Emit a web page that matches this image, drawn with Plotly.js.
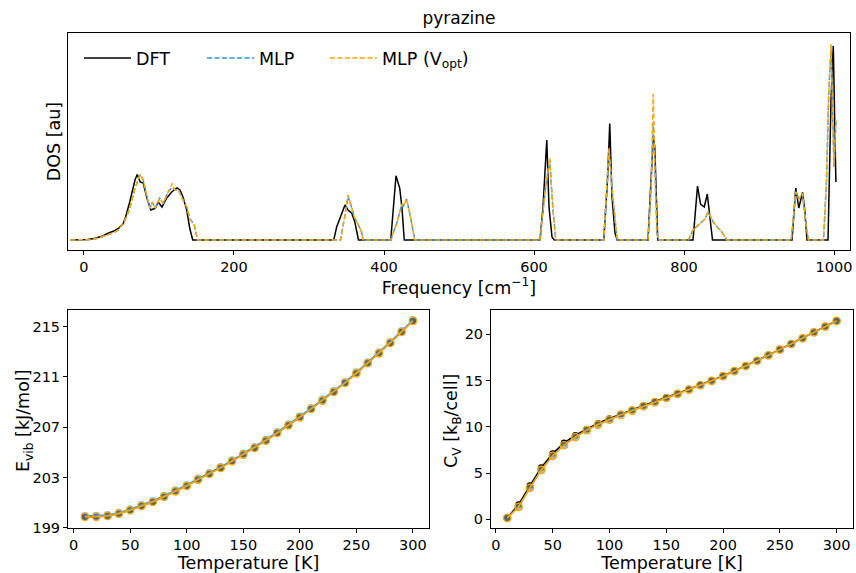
<!DOCTYPE html>
<html>
<head>
<meta charset="utf-8">
<script src="https://cdn.plot.ly/plotly-3.0.1.min.js"></script>
<style>html,body{margin:0;padding:0;background:#fff;}#plot{width:856px;height:573px;}</style>
</head>
<body>
<div id="plot"></div>
<script>
// ---- DOS data (frequency in cm^-1, DOS in arbitrary units) ----
const dftFreq = [-18,0,5,15,25,32,40,46,52,55,61,68,71,75,79,84,89,95,99,104,110,117,124,128,132,137,141,145,333,337,341,346,348,352,357,361,366,409,412,416,421,424,427,608,612,617,620,624,627,693,698,701,704,708,711,752,756,759,761,763,765,812,815,818,822,827,831,834,838,944,949,953,958,961,964,992,996,999,1002.5];
const dftDos = [0,0,0.5,1.7,4,6.7,9,11.7,16,21.7,38,60,65.5,58,57,41.7,30,31.7,38,33,41.7,48,52,50,43,30,11.7,0,0,13.3,21.7,31.7,35,30,26.7,18.3,0,0,31.7,64.3,51.7,31.7,0,0,33.3,100,33,3,0,0,60,116.5,43,7,0,0,60,104,93,43,0,0,23.3,54,36,33,46,23.3,0,0,52,32,47.7,30,0,0,140,194,58];

const mlpFreq = [-18,0,10,20,30,40,46,55,61,68,75,79,84,88,91,95,101,106,112,118,121,126,131,137,141,147,151.5,342,348,352,357,361,366,370,372,409,417,424,426,430,434,438,441,608,615,621,625,629,693,700,705,711,752,756,759,761,764,766,806,812,821,828,832,839,846,851,857,943,949,953,958,963,966,986,990,993,996,998,1000,1002.5];
const mlpDos = [0,0,0.5,2,4.5,7.5,10,20,31.7,51.7,65,60,43,31.7,38,31.7,41.7,36.7,48,53,50,50,41.7,33,21.7,15,0,0,25,44,32,21.7,15,8.3,0,0,16.7,36,34,41,28,11.7,0,0,50,80,33,0,0,90,43,0,0,50,114,76.7,7,0,0,10,16,21,28.3,18,11.7,7.5,0,0,48.3,41,46.5,13,0,0,60,148,190,138,73,118];

const optFreq = [-18,0,10,20,30,40,46,55,61,68,75,79,84,88,91,95,101,106,112,118,121,126,131,137,141,147,151.5,342,348,352,357,361,366,370,372,409,417,424,426,430,434,438,441,608,615,621,625,629,693,700,705,711,752,756,759,761,764,766,806,812,821,828,832,839,846,851,857,943,949,953,958,963,966,986,990,993,996,998,1000,1002.5];
const optDos = [0,0,0.5,2,4.5,7.5,10,20,31.7,51.7,66,60,43,31.7,38,31.7,41.7,36.7,48,56.7,50,50,41.7,33,21.7,15,0,0,25,45,32,21.7,15,8.3,0,0,16.7,36,34,41,28,11.7,0,0,50,81.7,33,0,0,91.7,43,0,0,50,146,76.7,7,0,0,10,16,21,28.3,18,11.7,7.5,0,0,48.3,41,46.5,13,0,0,60,150,196,138,73,120];

// ---- Thermodynamics ----
const temperature = [10,20,30,40,50,60,70,80,90,100,110,120,130,140,150,160,170,180,190,200,210,220,230,240,250,260,270,280,290,300];
const evibDft = [199.88,199.89,199.96,200.14,200.41,200.75,201.07,201.49,201.92,202.34,202.85,203.30,203.78,204.31,204.84,205.37,205.95,206.56,207.17,207.81,208.47,209.14,209.83,210.54,211.31,212.11,212.90,213.73,214.60,215.48];
const evibMlp = [199.94,199.95,200.02,200.20,200.47,200.81,201.13,201.55,201.98,202.40,202.91,203.36,203.84,204.37,204.90,205.43,206.01,206.62,207.23,207.87,208.53,209.20,209.89,210.60,211.37,212.17,212.96,213.79,214.66,215.53];
const evibOpt = [199.86,199.87,199.94,200.12,200.39,200.73,201.05,201.47,201.90,202.32,202.83,203.28,203.76,204.29,204.82,205.35,205.93,206.54,207.15,207.79,208.45,209.12,209.81,210.52,211.29,212.09,212.88,213.71,214.58,215.46];
const cvDft = [0.18,1.59,3.65,5.60,7.11,8.27,9.10,9.75,10.40,10.90,11.40,11.84,12.31,12.74,13.18,13.61,14.08,14.55,15.02,15.52,16.06,16.61,17.18,17.76,18.38,18.99,19.60,20.25,20.87,21.48];
const cvMlp = [0.15,1.36,3.41,5.36,6.88,8.03,8.89,9.65,10.26,10.80,11.31,11.77,12.25,12.69,13.13,13.57,14.04,14.51,14.99,15.49,16.03,16.59,17.16,17.74,18.36,18.97,19.59,20.23,20.86,21.47];
const cvOpt = [0.15,1.34,3.39,5.34,6.86,8.01,8.88,9.64,10.25,10.79,11.30,11.76,12.24,12.68,13.12,13.56,14.03,14.50,14.98,15.48,16.02,16.58,17.15,17.73,18.35,18.96,19.58,20.22,20.85,21.46];
const evibTicks = [199,203,207,211,215];

const BLACK = '#000000', BLUE = '#2e95f0', ORANGE = '#ffa500';
const F = 'DejaVu Sans, sans-serif';

const traces = [
  {x: dftFreq, y: dftDos, type:'scatter', mode:'lines', name:'DFT', legend:'legend', line:{color:BLACK, width:1.5}, xaxis:'x', yaxis:'y'},
  {x: mlpFreq, y: mlpDos, type:'scatter', mode:'lines', name:'MLP', legend:'legend2', line:{color:BLUE, width:1.5, dash:'5px,2.5px'}, xaxis:'x', yaxis:'y'},
  {x: optFreq, y: optDos, type:'scatter', mode:'lines', name:'MLP (V<sub>opt</sub>)', legend:'legend3', line:{color:ORANGE, width:1.5, dash:'5px,2.5px'}, xaxis:'x', yaxis:'y'},

  {x: temperature, y: evibDft, type:'scatter', mode:'lines+markers', showlegend:false, line:{color:BLACK, width:1.5}, marker:{color:BLACK, size:6.5}, xaxis:'x2', yaxis:'y2'},
  {x: temperature, y: evibMlp, type:'scatter', mode:'lines+markers', showlegend:false, line:{color:BLUE, width:1.5}, marker:{color:'rgba(46,149,240,0.55)', size:8}, xaxis:'x2', yaxis:'y2'},
  {x: temperature, y: evibOpt, type:'scatter', mode:'lines+markers', showlegend:false, line:{color:ORANGE, width:1.5}, marker:{color:'rgba(255,165,0,0.25)', size:7.5, line:{color:ORANGE, width:1.2}}, xaxis:'x2', yaxis:'y2'},

  {x: temperature, y: cvDft, type:'scatter', mode:'lines+markers', showlegend:false, line:{color:BLACK, width:1.5}, marker:{color:BLACK, size:6.5}, xaxis:'x3', yaxis:'y3'},
  {x: temperature, y: cvMlp, type:'scatter', mode:'lines+markers', showlegend:false, line:{color:BLUE, width:1.5}, marker:{color:'rgba(46,149,240,0.55)', size:8}, xaxis:'x3', yaxis:'y3'},
  {x: temperature, y: cvOpt, type:'scatter', mode:'lines+markers', showlegend:false, line:{color:ORANGE, width:1.5}, marker:{color:'rgba(255,165,0,0.25)', size:7.5, line:{color:ORANGE, width:1.2}}, xaxis:'x3', yaxis:'y3'}
];

const W = 856, H = 573;
const axBase = {
  showline:true, mirror:true, linecolor:BLACK, linewidth:1, showgrid:false, zeroline:false,
  ticks:'outside', ticklen:4, tickwidth:1, tickcolor:BLACK,
  tickfont:{family:F, size:14.5, color:BLACK}
};
const titleFont = {family:F, size:17.5, color:BLACK};
function legendAt(px) {
  return {orientation:'h', x:px/W, xanchor:'left', y:1-58/H, yanchor:'middle', bgcolor:'rgba(0,0,0,0)', borderwidth:0,
          font:{family:F, size:17.5, color:BLACK}, itemwidth:47};
}

const layout = {
  width:W, height:H,
  margin:{l:0, r:0, t:0, b:0},
  paper_bgcolor:'#fff', plot_bgcolor:'#fff',
  font:{family:F, color:BLACK},
  title:{text:'pyrazine', x:459/W, xanchor:'center', y:1-18/H, yanchor:'middle', font:{family:F, size:17, color:BLACK}},
  showlegend:true,
  legend: legendAt(79),
  legend2: legendAt(202),
  legend3: legendAt(325),
  xaxis: Object.assign({}, axBase, {domain:[68/W, 850/W], range:[-21.3, 1021.3], tickvals:[0,200,400,600,800,1000], anchor:'y',
          title:{text:'Frequency [cm<sup>−1</sup>]', font:titleFont, standoff:3}}),
  yaxis: Object.assign({}, axBase, {domain:[1-250/H, 1-33/H], range:[-10, 207], ticks:'', showticklabels:false, anchor:'x',
          title:{text:'DOS [au]', font:titleFont, standoff:1}}),
  xaxis2: Object.assign({}, axBase, {domain:[68/W, 429/W], range:[-5, 314.2], dtick:50, tick0:0, anchor:'y2',
          title:{text:'Temperature [K]', font:titleFont, standoff:2}}),
  yaxis2: Object.assign({}, axBase, {domain:[1-528/H, 1-310/H], range:[198.98, 216.33], tickvals:evibTicks, anchor:'x2'}),
  xaxis3: Object.assign({}, axBase, {domain:[491/W, 853/W], range:[-4.3, 314.4], dtick:50, tick0:0, anchor:'y3',
          title:{text:'Temperature [K]', font:titleFont, standoff:2}}),
  yaxis3: Object.assign({}, axBase, {domain:[1-528/H, 1-310/H], range:[-0.94, 22.64], dtick:5, tick0:0, anchor:'x3'}),
  annotations:[
    {text:'E<sub>vib</sub> [kJ/mol]', xref:'paper', yref:'paper', x:24/W, y:1-421/H, xanchor:'center', yanchor:'middle',
     textangle:-90, showarrow:false, font:titleFont},
    {text:'C<sub>V</sub> [k<sub>B</sub>/cell]', xref:'paper', yref:'paper', x:452/W, y:1-421/H, xanchor:'center', yanchor:'middle',
     textangle:-90, showarrow:false, font:titleFont}
  ]
};

Plotly.newPlot('plot', traces, layout, {staticPlot:true, displayModeBar:false});
</script>
</body>
</html>
